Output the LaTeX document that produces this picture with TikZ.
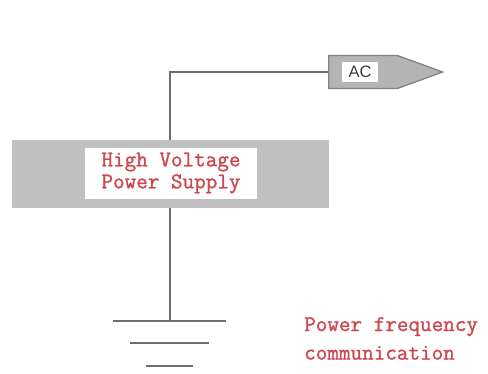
\documentclass[tikz,border=0pt]{standalone}
\usepackage{fontspec}
\setmainfont{Liberation Sans}
\newfontfamily\monof{Latin Modern Mono}[FakeBold=1.2]
\usetikzlibrary{shapes.symbols}
\definecolor{boxgray}{RGB}{192,192,192}
\definecolor{linegray}{RGB}{110,110,110}
\definecolor{sigfill}{RGB}{180,180,180}
\definecolor{sigdraw}{RGB}{130,130,130}
\definecolor{txtred}{RGB}{205,70,78}
\definecolor{acgray}{RGB}{60,60,60}
\begin{document}
\begin{tikzpicture}[x=1pt,y=-1pt,
  wire/.style={draw=linegray, line width=1.4pt},
  redtext/.style={text=txtred, font=\monof\fontsize{22.5}{22}\selectfont, inner sep=0pt}]
\useasboundingbox (0,0) rectangle (488,373);
% supply block
\node[fill=boxgray, minimum width=317pt, minimum height=68pt, inner sep=0pt] (hv) at (170.5,174) {};
\node[fill=white, minimum width=172pt, minimum height=51pt, inner sep=0pt, redtext, align=center] (hvlabel) at (171,173) {High Voltage\\Power Supply};
% AC signal
\node[signal, signal to=east, signal from=nowhere, signal pointer angle=40, fill=sigfill, draw=sigdraw, line width=1.3pt, minimum width=114pt, minimum height=33pt, inner sep=0pt] (ac) at (363,72) {};
\node[fill=white, minimum width=36pt, minimum height=20pt, inner sep=0pt, text=acgray, font=\fontsize{16.5}{18}\selectfont] (aclabel) at (360,72) {AC};
% wiring
\draw[wire] (hv.north -| 170,0) |- (ac.west);
\coordinate (g) at (170,321);
\draw[wire] (hv.south -| 170,0) -- (g);
% ground symbol
\coordinate (g1l) at (113,321); \coordinate (g1r) at (226,321);
\coordinate (g2l) at (130,343); \coordinate (g2r) at (209,343);
\coordinate (g3l) at (146,366); \coordinate (g3r) at (193,366);
\draw[wire] (g1l) -- (g1r);
\draw[wire] (g2l) -- (g2r);
\draw[wire] (g3l) -- (g3r);
% caption
\node[redtext, align=left, anchor=north west, font=\monof\fontsize{22.5}{28.5}\selectfont] (cap) at (304,317) {Power frequency\\communication};
\end{tikzpicture}
\end{document}
